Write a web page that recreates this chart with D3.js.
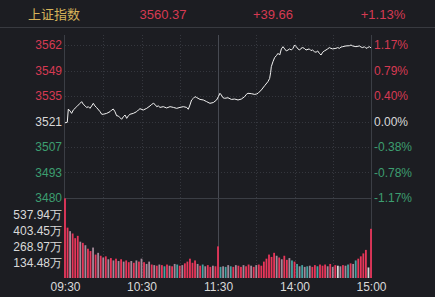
<!DOCTYPE html>
<html>
<head>
<meta charset="utf-8">
<script src="https://cdn.jsdelivr.net/npm/d3@7"></script>
<style>
  html, body { margin: 0; padding: 0; background: #1c1d22; }
  svg { display: block; font-family: "Liberation Sans", Arial, "Noto Sans CJK SC", sans-serif; }
</style>
</head>
<body>
<div id="chart"></div>
<script>
// header
const indexName = "上证指数";
const lastPrice = "3560.37";
const change = "+39.66";
const changePct = "+1.13%";

// prices (minutes from 09:30, lunch collapsed)
const prevClose = 3520.71;
const maxPct = 1.17;
const priceMinutes = [0, 1.8, 2.6, 3.9, 5.2, 6.5, 9.2, 11.8, 13.1, 14.4, 15.7, 17, 18.3, 19.6, 20.9, 22.2, 23.5, 24.8, 27.5, 28.8, 30.1, 32.7, 35.3, 36.6, 37.9, 39.2, 40.5, 41.8, 43.1, 44.4, 45.8, 47.1, 48.4, 49.7, 51, 53.6, 56.2, 57.5, 58.8, 61.4, 64.1, 66.7, 68, 69.3, 70.6, 71.9, 73.2, 74.5, 77.1, 79.7, 82.4, 85, 87.6, 90.2, 92.8, 95.4, 96.7, 98, 99.3, 100.7, 102, 103.3, 105.9, 108.5, 111.1, 113.7, 116.3, 118.9, 120.3, 121.5, 122.6, 123.9, 125.2, 127.8, 130.5, 133.1, 135.7, 138.3, 140.9, 142.2, 143.5, 146.1, 148.8, 150.1, 151.4, 154, 156.6, 159.2, 160.5, 161.3, 161.8, 163.1, 164.4, 165.8, 167.1, 168.4, 169.7, 171, 172.3, 173.6, 174.9, 176.2, 177.5, 178.8, 180.1, 181.4, 182.7, 184, 185.1, 186.4, 187.7, 189, 191.6, 192.9, 194.2, 195.6, 196.9, 198.2, 199.5, 200.8, 202.1, 203.4, 204.7, 206, 207.3, 208.6, 209.9, 212.5, 213.9, 215.2, 216.5, 217.8, 220.4, 223, 224.3, 225.6, 228.2, 230.9, 232.2, 233.5, 234.8, 236.1, 237.4, 238.7, 240];
const priceValues = [3520.0, 3520.3, 3527.4, 3526.4, 3525.1, 3526.9, 3528.7, 3530.5, 3531.4, 3529.9, 3529.2, 3528.2, 3528.7, 3527.8, 3529.1, 3530.5, 3529.1, 3528.2, 3526.0, 3524.6, 3524.6, 3525.1, 3526.0, 3526.9, 3527.4, 3526.0, 3523.8, 3523.7, 3522.8, 3521.9, 3523.3, 3524.2, 3522.4, 3523.8, 3524.6, 3525.1, 3526.0, 3526.9, 3527.6, 3526.9, 3527.8, 3529.1, 3529.9, 3530.5, 3529.9, 3528.7, 3529.1, 3528.3, 3528.7, 3528.0, 3528.7, 3528.3, 3527.8, 3528.3, 3528.7, 3528.3, 3527.3, 3529.6, 3532.3, 3533.2, 3534.1, 3533.6, 3532.6, 3532.3, 3531.4, 3530.5, 3530.9, 3532.3, 3534.1, 3535.9, 3535.0, 3533.5, 3533.2, 3533.5, 3532.6, 3532.8, 3532.3, 3532.8, 3534.1, 3535.3, 3535.9, 3535.7, 3535.3, 3535.5, 3535.9, 3537.7, 3540.0, 3542.2, 3543.9, 3547.2, 3550.2, 3552.9, 3555.1, 3556.2, 3557.4, 3556.5, 3559.8, 3561.0, 3559.8, 3558.7, 3559.2, 3559.8, 3559.2, 3560.1, 3561.9, 3561.0, 3559.8, 3559.2, 3560.1, 3560.5, 3560.1, 3559.2, 3559.8, 3558.9, 3559.2, 3558.3, 3558.0, 3558.7, 3557.4, 3556.5, 3558.0, 3558.7, 3559.2, 3559.8, 3560.5, 3560.1, 3559.8, 3560.1, 3560.5, 3560.1, 3560.8, 3561.0, 3561.4, 3561.5, 3561.9, 3561.4, 3561.0, 3561.4, 3560.8, 3560.5, 3561.0, 3560.1, 3560.5, 3561.0, 3560.37];

// axis labels
const priceLabels = ["3562", "3549", "3535", "3521", "3507", "3493", "3480"];
const pctLabels = ["1.17%", "0.79%", "0.40%", "0.00%", "-0.38%", "-0.78%", "-1.17%"];
const timeMinutes = [0, 60, 120, 180, 240];
const timeLabels = ["09:30", "10:30", "11:30", "14:00", "15:00"];
const volTicks = [134.48, 268.97, 403.45, 537.94];

// volume, one bar per 2 minutes (万)
const volValues = [680, 430, 400, 380, 340, 360, 310, 300, 280, 250, 230, 260, 200, 215, 190, 175, 185, 160, 170, 150, 165, 145, 160, 140, 150, 135, 145, 130, 150, 140, 165, 135, 120, 140, 115, 110, 105, 115, 110, 100, 115, 105, 100, 120, 115, 105, 110, 125, 140, 165, 130, 150, 120, 105, 115, 100, 110, 95, 105, 100, 270, 95, 100, 95, 110, 100, 95, 110, 105, 95, 110, 100, 115, 105, 95, 110, 115, 105, 140, 165, 200, 180, 215, 190, 175, 160, 190, 155, 170, 150, 140, 120, 100, 110, 95, 100, 105, 95, 110, 100, 115, 105, 115, 100, 120, 95, 110, 105, 100, 110, 105, 115, 125, 120, 150, 165, 185, 210, 240, 90, 420];
// r = up, g = down, p = mixed, w = flat
const volDirs = "rrprrrprpr" + "rprprprprp" + "rprprrprpr" + "prpprprprg" + "rprpgrprrr" +
  "rrprgprrpr" + "rgpgpgrprr" + "prrprprrrr" + "rrrprprrpg" + "rgpgpgprrg" +
  "rrrprprwpr" + "pgrpgrrrrwr";

const dirColor = { r: "#e8365a", g: "#46a4a2", p: "#a3899a", w: "#d8d8d8" };
const red = "#d63a52", green = "#3c9e70", white = "#d9d9d9";

const W = 435, H = 297;
const left = 65, right = 371;
const priceTop = 45, priceBottom = 198;
const volBase = 278;

const svg = d3.select("#chart").append("svg")
  .attr("width", W).attr("height", H);

svg.append("rect").attr("width", W).attr("height", H).attr("fill", "#1c1d22");

// header
const header = svg.append("g").attr("font-size", 13);
header.append("text").attr("x", 28).attr("y", 19).attr("fill", "#d6b35a").text(indexName);
header.append("text").attr("x", 163).attr("y", 19).attr("text-anchor", "middle").attr("fill", red).text(lastPrice);
header.append("text").attr("x", 273).attr("y", 19).attr("text-anchor", "middle").attr("fill", red).text(change);
header.append("text").attr("x", 383).attr("y", 19).attr("text-anchor", "middle").attr("fill", red).text(changePct);
svg.append("line").attr("x1", 0).attr("x2", W).attr("y1", 27.5).attr("y2", 27.5)
  .attr("stroke", "#383a40");

// scales
const x = d3.scaleLinear().domain([0, 240]).range([left, right]);
const y = d3.scaleLinear()
  .domain([prevClose * (1 - maxPct / 100), prevClose * (1 + maxPct / 100)])
  .range([priceBottom, priceTop]);
const yVol = d3.scaleLinear().domain([0, d3.max(volTicks)]).range([volBase, 215]);

const step = (y.domain()[1] - prevClose) / 3;
const levels = d3.range(3, -4, -1).map(k => prevClose + k * step);
const labelColor = i => i < 3 ? red : (i === 3 ? white : green);

// grid
const grid = svg.append("g").attr("stroke", "#35373e").attr("stroke-dasharray", "1,2");
grid.selectAll("line.h").data(levels.slice(0, 6)).join("line")
  .attr("x1", left).attr("x2", right)
  .attr("y1", d => Math.round(y(d)) + 0.5).attr("y2", d => Math.round(y(d)) + 0.5);
grid.selectAll("line.v").data(d3.range(30, 240, 30).filter(m => m !== 120)).join("line")
  .attr("x1", d => Math.round(x(d)) + 0.5).attr("x2", d => Math.round(x(d)) + 0.5)
  .attr("y1", 35).attr("y2", volBase);

// frame
const frame = svg.append("g").attr("stroke", "#3b3e45");
frame.append("line").attr("x1", left - 0.5).attr("x2", left - 0.5).attr("y1", 35).attr("y2", volBase);
frame.append("line").attr("x1", right + 0.5).attr("x2", right + 0.5).attr("y1", 35).attr("y2", volBase);
frame.append("line").attr("x1", Math.round(x(120)) + 0.5).attr("x2", Math.round(x(120)) + 0.5)
  .attr("y1", 35).attr("y2", volBase).attr("stroke", "#474a52");
frame.append("line").attr("x1", left).attr("x2", right)
  .attr("y1", Math.round(y(levels[6])) + 0.5).attr("y2", Math.round(y(levels[6])) + 0.5);

// price axes
const leftAxis = d3.axisLeft(y).tickValues(levels).tickSize(0).tickPadding(2)
  .tickFormat((d, i) => priceLabels[i]);
const gL = svg.append("g").attr("transform", `translate(${left - 1},0)`).call(leftAxis);
gL.select(".domain").remove();
gL.selectAll("text").attr("font-size", 12).attr("font-family", null)
  .attr("fill", (d, i) => labelColor(i));

const rightAxis = d3.axisRight(y).tickValues(levels).tickSize(0).tickPadding(2)
  .tickFormat((d, i) => pctLabels[i]);
const gR = svg.append("g").attr("transform", `translate(${right + 1},0)`).call(rightAxis);
gR.select(".domain").remove();
gR.selectAll("text").attr("font-size", 12).attr("font-family", null)
  .attr("fill", (d, i) => labelColor(i));

// volume axis
const volAxis = d3.axisLeft(yVol).tickValues(volTicks).tickSize(0).tickPadding(2)
  .tickFormat(d => d.toFixed(2) + "万");
const gV = svg.append("g").attr("transform", `translate(${left - 1},0)`).call(volAxis);
gV.select(".domain").remove();
gV.selectAll("text").attr("font-size", 12).attr("font-family", null).attr("fill", white);

// time axis
const timeAxis = d3.axisBottom(x).tickValues(timeMinutes).tickSize(0).tickPadding(4)
  .tickFormat((d, i) => timeLabels[i]);
const gT = svg.append("g").attr("transform", `translate(0,${volBase})`).call(timeAxis);
gT.select(".domain").remove();
gT.selectAll("text").attr("font-size", 12).attr("font-family", null).attr("fill", white);

// volume bars
svg.append("g").selectAll("rect").data(volValues).join("rect")
  .attr("x", (d, i) => x(i * 2) - 0.9)
  .attr("width", 1.8)
  .attr("y", d => yVol(d))
  .attr("height", d => volBase - yVol(d))
  .attr("fill", (d, i) => dirColor[volDirs[i]]);

// price line
const line = d3.line()
  .x((d, i) => x(priceMinutes[i]))
  .y(d => y(d));
svg.append("path").datum(priceValues)
  .attr("d", line)
  .attr("fill", "none")
  .attr("stroke", "#f2f2f2")
  .attr("stroke-width", 1);
</script>
</body>
</html>
